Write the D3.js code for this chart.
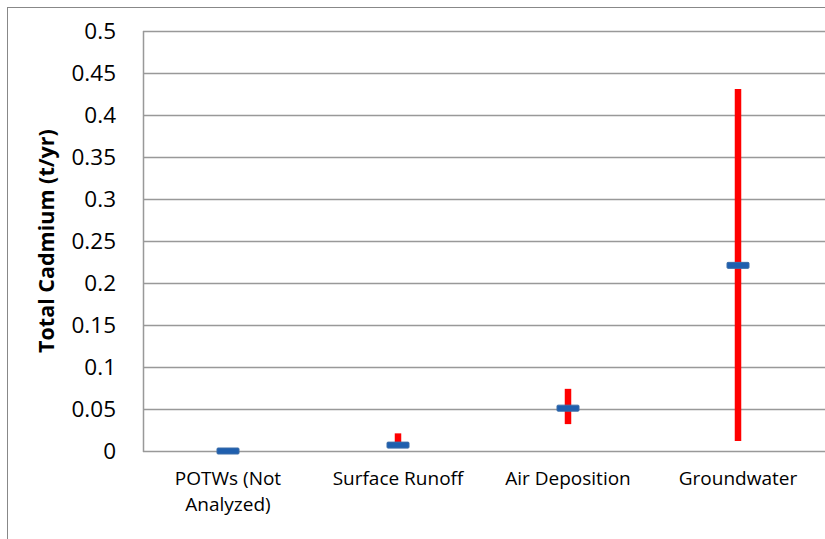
<!DOCTYPE html>
<html>
<head>
<meta charset="utf-8">
<script src="https://cdn.jsdelivr.net/npm/d3@7"></script>
<style>
  body { margin: 0; background: #fff; }
  svg { display: block; font-family: "Open Sans", sans-serif; }
</style>
</head>
<body>
<script>
// data
const categories = ["POTWs (Not Analyzed)", "Surface Runoff", "Air Deposition", "Groundwater"];
const labelLines = [["POTWs (Not", "Analyzed)"], ["Surface Runoff"], ["Air Deposition"], ["Groundwater"]];
const means = [0, 0.007, 0.051, 0.221];
const lows = [null, 0.004, 0.032, 0.012];
const highs = [null, 0.021, 0.074, 0.431];
const yTicks = [0, 0.05, 0.1, 0.15, 0.2, 0.25, 0.3, 0.35, 0.4, 0.45, 0.5];

const width = 825, height = 539;
const plotLeft = 143, plotRight = 823, plotTop = 31, plotBottom = 451;

const svg = d3.select("body").append("svg")
  .attr("width", width)
  .attr("height", height);

// outer chart border (right/bottom fall off the picture)
svg.append("rect")
  .attr("x", 7.5).attr("y", 7.5)
  .attr("width", 900).attr("height", 700)
  .attr("fill", "none")
  .attr("stroke", "#888").attr("stroke-width", 1);

const x = d3.scaleBand().domain(categories).range([plotLeft, plotRight]);
const y = d3.scaleLinear().domain([0, 0.5]).range([plotBottom, plotTop]);

// gridlines
svg.append("g")
  .selectAll("line")
  .data(yTicks)
  .join("line")
  .attr("x1", plotLeft).attr("x2", width)
  .attr("y1", d => Math.round(y(d)) + 0.5).attr("y2", d => Math.round(y(d)) + 0.5)
  .attr("stroke", "#999").attr("stroke-width", 1.5);

// y axis line
svg.append("line")
  .attr("x1", plotLeft + 0.5).attr("x2", plotLeft + 0.5)
  .attr("y1", plotTop).attr("y2", plotBottom + 1)
  .attr("stroke", "#999").attr("stroke-width", 1.5);

// y tick labels
svg.append("g")
  .selectAll("text")
  .data(yTicks)
  .join("text")
  .attr("x", 116)
  .attr("y", d => y(d))
  .attr("dy", "0.36em")
  .attr("text-anchor", "end")
  .attr("font-size", 22.5)
  .attr("fill", "#000")
  .text(d => d);

// y axis title
svg.append("text")
  .attr("transform", `translate(54, ${(plotTop + plotBottom) / 2}) rotate(-90)`)
  .attr("text-anchor", "middle")
  .attr("font-size", 21.5)
  .attr("font-weight", "bold")
  .text("Total Cadmium (t/yr)");

// x labels
const xl = svg.append("g")
  .selectAll("text")
  .data(categories)
  .join("text")
  .attr("x", d => x(d) + x.bandwidth() / 2)
  .attr("y", 485)
  .attr("text-anchor", "middle")
  .attr("font-size", 19)
  .attr("fill", "#000");
xl.selectAll("tspan")
  .data((d, i) => labelLines[i])
  .join("tspan")
  .attr("x", function() { return d3.select(this.parentNode).attr("x"); })
  .attr("dy", (d, i) => i === 0 ? 0 : 26)
  .text(d => d);

// error bars
const idx = d3.range(categories.length).filter(i => lows[i] != null);
svg.append("g")
  .selectAll("line")
  .data(idx)
  .join("line")
  .attr("x1", i => x(categories[i]) + x.bandwidth() / 2)
  .attr("x2", i => x(categories[i]) + x.bandwidth() / 2)
  .attr("y1", i => y(highs[i]))
  .attr("y2", i => y(lows[i]))
  .attr("stroke", "#ff0000").attr("stroke-width", 6.5);

// mean markers
svg.append("g")
  .selectAll("rect")
  .data(means)
  .join("rect")
  .attr("x", (d, i) => x(categories[i]) + x.bandwidth() / 2 - 11)
  .attr("y", d => y(d) - 3)
  .attr("width", 22).attr("height", 6)
  .attr("rx", 1)
  .attr("fill", "#1f5fae")
  .attr("stroke", "#3b6da8").attr("stroke-width", 1);
</script>
</body>
</html>
